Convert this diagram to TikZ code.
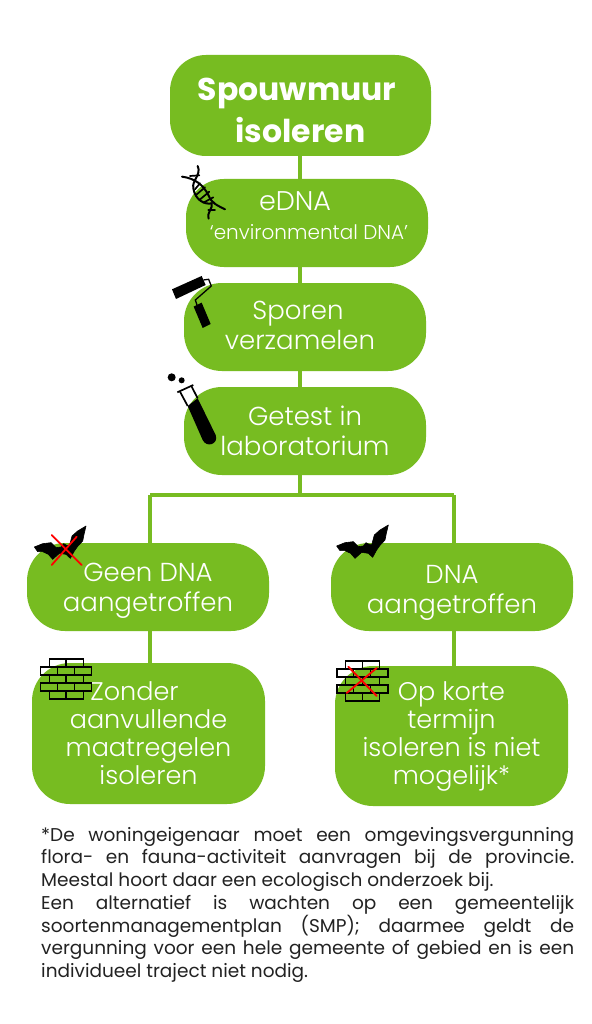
\documentclass[tikz,border=0pt]{standalone}
\usepackage{fontspec}
\setmainfont{Poppins}
\newfontfamily\lightf{Poppins Light}
\definecolor{gr}{HTML}{77BC21}
\definecolor{ink}{HTML}{222222}
\newcommand\dn[2]{\raisebox{-#1}[\height][\depth]{#2}}
\newcommand\batdraw{\filldraw[black,line width=0.6pt,line join=round] (35,108) -- (60,98) -- (85,95) -- (100,110) -- (115,108) -- (123,98) -- (130,102) -- (140,105) -- (148,75) -- (165,60) -- (190,45) -- (184,70) -- (180,90) -- (165,106) -- (155,120) -- (143,142) -- (130,130) -- (110,127) -- (90,145) -- (77,130) -- (60,122) -- (45,122) -- cycle;}
\newcommand\walldraw{%
  \foreach \y in {447,495,543}{\draw[brick] (88,\y) rectangle (138,\y+24); \draw[brick] (138,\y) rectangle (190,\y+24);}
  \foreach \y in {471,519}{\draw[brick] (62,\y) rectangle (112,\y+24); \draw[brick] (112,\y) rectangle (163,\y+24); \draw[brick] (163,\y) rectangle (215,\y+24);}}
\tikzset{
 box/.style={fill=gr,text=white,align=center,inner sep=0pt,font=\lightf\fontsize{26}{30}\selectfont},
 twol/.style={box,minimum width=242pt,minimum height=88pt,rounded corners=38pt},
 fourl/.style={box,minimum width=233pt,minimum height=141pt,rounded corners=38pt,font=\lightf\fontsize{25.5}{28}\selectfont},
 conn/.style={draw=gr,line width=4.6pt},
 ico/.style={x=0.3333pt,y=-0.3333pt},
 brick/.style={draw=black,line width=1.6pt},
 cross/.style={draw=red,line width=1.8pt,line cap=round}
}
\begin{document}
\begin{tikzpicture}[x=1pt,y=-1pt]
\useasboundingbox (0,0) rectangle (591,1024);
\fill[white] (0,0) rectangle (591,1024);
\coordinate (jc) at (300,495);
\coordinate (jl) at (150,495);
\coordinate (jr) at (454,495);
\draw[conn] (300,105) -- (jc);
\draw[conn] (jl) -- (jr);
\node[box,minimum width=261pt,minimum height=101pt,rounded corners=36pt,font=\bfseries\fontsize{31.5}{42}\selectfont] (title) at (300.5,105.5) {\dn{5pt}{\mbox{Spouwmuur\hspace{7pt}}}\\\dn{5pt}{isoleren}};
\node[twol] (edna) at (307,223) {};
\node[twol] (sporen) at (305,327) {\raisebox{3.5pt}{\mbox{Sporen\hspace{14pt}}}\\\raisebox{3.5pt}{\mbox{verzamelen\hspace{10pt}}}};
\node[twol] (getest) at (305,431) {Getest in\\laboratorium};
\node[twol] (geen) at (148,587) {\dn{4pt}{Geen DNA}\\\dn{4pt}{aangetroffen}};
\node[twol] (dna) at (452,587) {\dn{6pt}{DNA}\\\dn{6pt}{aangetroffen}};
\node[fourl] (zonder) at (148.5,733.5) {\mbox{Zonder\hspace{28pt}}\\aanvullende\\maatregelen\\isoleren};
\node[fourl,minimum height=140pt] (korte) at (451.5,736) {Op korte\\termijn\\isoleren is niet\\mogelijk*};
\node[text=white,inner sep=0pt,font=\lightf\fontsize{27}{30}\selectfont] (l1) at (295,201) {eDNA};
\node[text=white,inner sep=0pt,font=\lightf\fontsize{20}{24}\selectfont] (l2) at (309,232) {‘environmental DNA’};
\draw[conn] (jl |- geen.south) -- (jl |- zonder.north);
\draw[conn] (jr |- dna.south) -- (jr |- korte.north);
\draw[conn] (jl) -- (jl |- geen.north);
\draw[conn] (jr) -- (jr |- dna.north);
% DNA icon
\begin{scope}[shift={(150,150)},ico,line width=2pt,black,line cap=round]
\draw (96,80) .. controls (135,85) and (160,105) .. (175,135) .. controls (185,160) and (200,165) .. (225,178);
\draw (143,48) .. controls (155,75) and (125,90) .. (130,115) .. controls (135,150) and (165,165) .. (185,160);
\draw (185,160) .. controls (190,175) and (170,185) .. (176,206);
\draw[line width=1.7pt] (150,100)--(135,118) (165,112)--(138,135) (178,125)--(148,150) (190,142)--(160,158) (120,78)--(148,76) (175,180)--(195,180);
\end{scope}
% roller
\begin{scope}[shift={(150,150)},ico]
\fill[black] (66,418) -- (155,378) -- (167,405) -- (78,447) -- cycle;
\draw[black,line width=1.3pt] (160,390) -- (176,388) -- (184,408) -- (136,450) -- (142,468);
\fill[black] (131,470) -- (155,458) -- (182,522) -- (158,534) -- cycle;
\end{scope}
% tube
\begin{scope}[shift={(150,150)},ico]
\fill[black] (65,682) circle[radius=12];
\fill[black] (95,691) circle[radius=9];
\fill[black] (113,768) -- (143,745) -- (197,855) .. controls (207,882) and (170,895) .. (158,870) -- cycle;
\draw[black,line width=1.7pt] (82,727) -- (130,705);
\draw[black,line width=1.7pt] (90,725) -- (113,768) (124,708) -- (143,745);
\end{scope}
% bats and walls
\begin{scope}[shift={(22.7,511)},ico]\batdraw\end{scope}
\begin{scope}[shift={(325,510)},ico]\batdraw\end{scope}
\begin{scope}[shift={(20,510)},ico]\walldraw\end{scope}
\begin{scope}[shift={(316.33,512)},ico]\walldraw\end{scope}
% crosses
\draw[cross] (51.7,535) -- (81.7,565);
\draw[cross] (51.7,565) -- (76.7,536.7);
\draw[cross] (348.3,666.7) -- (376.7,696);
\draw[cross] (346.7,693) -- (376.7,668);
% footnote
\node[anchor=north west,inner sep=0pt,text width=533pt,align=justify,text=ink,font=\fontsize{18.5}{22.7}\selectfont] (note) at (41,827) {*De woningeigenaar moet een omgevingsvergunning\linebreak flora- en fauna-activiteit aanvragen bij de provincie.\linebreak Meestal hoort daar een ecologisch onderzoek bij.\par
Een alternatief is wachten op een gemeentelijk\linebreak soortenmanagementplan (SMP); daarmee geldt de\linebreak vergunning voor een hele gemeente of gebied en is een\linebreak individueel traject niet nodig.};
\end{tikzpicture}
\end{document}
